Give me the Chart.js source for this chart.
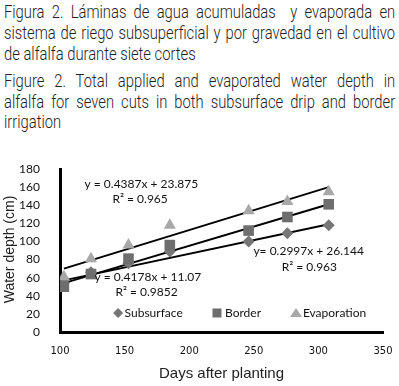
<!DOCTYPE html>
<html>
<head>
<meta charset="utf-8">
<script src="https://cdn.jsdelivr.net/npm/chart.js@4"></script>
<style>
  body { margin: 0; background: #fff; width: 399px; height: 386px; overflow: hidden; position: relative; }
  .cap { position: absolute; left: 4px; width: 477px; transform: scaleX(0.82); transform-origin: 0 0; font-family: Roboto, "Liberation Sans", sans-serif; font-weight: 300; font-size: 18px; color: #222; line-height: 21px; white-space: nowrap; }
  .cap div { text-align: justify; text-align-last: justify; }
  .cap div.last { text-align-last: left; }
  #wrap { position: absolute; left: 0; top: 140px; width: 399px; height: 246px; }
</style>
</head>
<body>
<div class="cap" style="top:1px">
  <div>Figura 2. Láminas de agua acumuladas&nbsp; y evaporada en</div>
  <div>sistema de riego subsuperficial y por gravedad en el cultivo</div>
  <div class="last">de alfalfa durante siete cortes</div>
</div>
<div class="cap" style="top:71px; line-height:20.5px">
  <div>Figure 2. Total applied and evaporated water depth in</div>
  <div>alfalfa for seven cuts in both subsurface drip and border</div>
  <div class="last">irrigation</div>
</div>
<div id="wrap"><canvas id="chart"></canvas></div>
<script>
// days after planting for the seven cuts
const days = [103, 124, 153, 185, 246, 276, 308];
const subsurface = [54, 66, 76, 89, 100, 109, 118];
const border = [50, 64, 81, 96, 112, 127, 141];
const evaporation = [61, 81, 96, 118, 134, 144, 155];

// trendline ends
const trendX = [103, 308];
const evapTrend = [70, 160];
const borderTrend = [54, 141];
const subTrend = [57, 119];

const xTicks = [100, 150, 200, 250, 300, 350];
const yTicks = [0, 20, 40, 60, 80, 100, 120, 140, 160, 180];

const toPts = (xs, ys) => xs.map((x, i) => ({ x: x, y: ys[i] }));

const labelFont = '12px Lato, "Open Sans", sans-serif';

// equations and custom legend drawn inside the plot
const extras = {
    id: 'extras',
    afterDatasetsDraw(chart) {
        const ctx = chart.ctx;
        const xs = chart.scales.x, ys = chart.scales.y;
        const px = (v) => xs.getPixelForValue(v);
        const py = (v) => ys.getPixelForValue(v);
        ctx.save();
        ctx.fillStyle = '#111';
        ctx.font = labelFont;
        ctx.textAlign = 'center';
        ctx.textBaseline = 'middle';
        ctx.fillText('y = 0.4387x + 23.875', px(163), py(163));
        ctx.fillText('R\u00B2 = 0.965', px(162), py(147));
        ctx.fillText('y = 0.4178x + 11.07', px(168), py(61));
        ctx.fillText('R\u00B2 = 0.9852', px(167), py(44));
        ctx.fillText('y= 0.2997x + 26.144', px(292.5), py(89.4));
        ctx.fillText('R\u00B2 = 0.963', px(293), py(72));

        // legend
        const ly = py(21);
        const items = [
            { name: 'Subsurface', color: '#767676', shape: 'diamond', mx: 145, tx: 150 },
            { name: 'Border', color: '#6e6e6e', shape: 'square', mx: 221.5, tx: 227.7 },
            { name: 'Evaporation', color: '#a8a8a8', shape: 'triangle', mx: 282.7, tx: 288 },
        ];
        items.forEach((it) => {
            const mx = px(it.mx);
            ctx.fillStyle = it.color;
            ctx.beginPath();
            if (it.shape === 'diamond') {
                ctx.moveTo(mx, ly - 5); ctx.lineTo(mx + 5, ly); ctx.lineTo(mx, ly + 5); ctx.lineTo(mx - 5, ly);
            } else if (it.shape === 'square') {
                ctx.rect(mx - 4.5, ly - 4.5, 9, 9);
            } else {
                ctx.moveTo(mx, ly - 5); ctx.lineTo(mx + 6, ly + 4); ctx.lineTo(mx - 6, ly + 4);
            }
            ctx.closePath();
            ctx.fill();
            ctx.fillStyle = '#111';
            ctx.textAlign = 'left';
            ctx.fillText(it.name, px(it.tx), ly);
        });

        // y axis title, centred on the axis
        ctx.translate(10, (chart.chartArea.top + chart.chartArea.bottom) / 2 - 1);
        ctx.rotate(-Math.PI / 2);
        ctx.textAlign = 'center';
        ctx.font = '14px "Liberation Sans", Arial, sans-serif';
        ctx.fillStyle = '#222';
        ctx.fillText('Water depth (cm)', 0, 0);
        ctx.restore();
    }
};

const ctx = document.getElementById('chart').getContext('2d');
const myChart = new Chart(ctx, {
    type: 'scatter',
    data: {
        datasets: [
            {
                label: 'Evaporation',
                data: toPts(days, evaporation),
                pointStyle: 'triangle',
                pointRadius: 7,
                backgroundColor: '#a8a8a8',
                borderWidth: 0,
            },
            {
                label: 'Border',
                data: toPts(days, border),
                pointStyle: 'rect',
                pointRadius: 7.5,
                backgroundColor: '#6e6e6e',
                borderWidth: 0,
            },
            {
                label: 'Subsurface',
                data: toPts(days, subsurface),
                pointStyle: 'rectRot',
                pointRadius: 6,
                backgroundColor: '#767676',
                borderWidth: 0,
            },
            {
                type: 'line',
                label: 'trend evap',
                data: toPts(trendX, evapTrend),
                borderColor: '#000',
                borderWidth: 2,
                pointRadius: 0,
            },
            {
                type: 'line',
                label: 'trend border',
                data: toPts(trendX, borderTrend),
                borderColor: '#000',
                borderWidth: 2,
                pointRadius: 0,
            },
            {
                type: 'line',
                label: 'trend sub',
                data: toPts(trendX, subTrend),
                borderColor: '#000',
                borderWidth: 2,
                pointRadius: 0,
            },
        ],
    },
    options: {
        responsive: true,
        maintainAspectRatio: false,
        animation: false,
        layout: {
            padding: { top: 29, right: 16, left: 0, bottom: 0 },
        },
        plugins: {
            legend: { display: false },
            tooltip: { enabled: false },
        },
        scales: {
            x: {
                type: 'linear',
                min: 100,
                max: 350,
                afterBuildTicks: (scale) => { scale.ticks = xTicks.map((v) => ({ value: v })); },
                afterFit: (scale) => { scale.height = 54; },
                grid: { display: false },
                border: { color: '#000', width: 3 },
                ticks: {
                    color: '#111',
                    padding: 5,
                    maxRotation: 0,
                    font: { family: '"DejaVu Sans", Verdana, sans-serif', size: 10 },
                },
                title: {
                    display: true,
                    text: 'Days after planting',
                    color: '#222',
                    padding: { top: 0, bottom: 3 },
                    font: { family: '"Liberation Sans", Arial, sans-serif', size: 15 },
                },
            },
            y: {
                min: 0,
                max: 180,
                afterBuildTicks: (scale) => { scale.ticks = yTicks.map((v) => ({ value: v })); },
                afterFit: (scale) => { scale.width = 60; },
                grid: { display: false },
                border: { color: '#000', width: 3 },
                ticks: {
                    color: '#111',
                    padding: 12,
                    font: { family: 'Lato, "Open Sans", sans-serif', size: 12 },
                },
            },
        },
    },
    plugins: [extras],
});
</script>
</body>
</html>
